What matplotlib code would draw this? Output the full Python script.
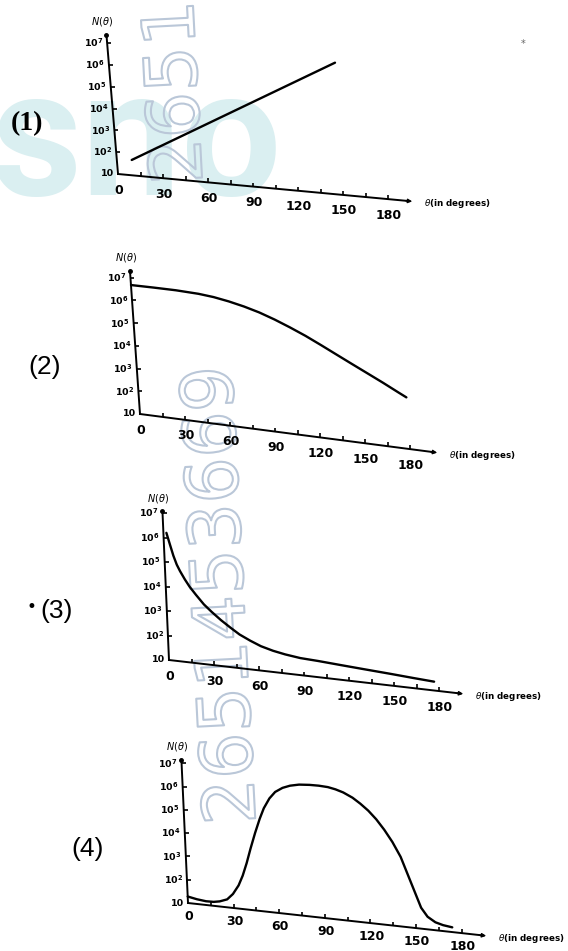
import numpy as np
import matplotlib
matplotlib.use("Agg")
import matplotlib.pyplot as plt
from matplotlib.transforms import Affine2D, offset_copy
from matplotlib import patheffects

FIG_W, FIG_H = 568, 951

# ---- data (theta in degrees, N on a log axis) ----
theta1 = [10, 152]
n1 = [5.1e1, 1.2e7]

theta2 = [0, 15, 30, 45, 55, 65, 75, 85, 95, 105, 115, 125, 135, 145, 155, 165, 175, 180]
n2 = [4.8e6, 5.0e6, 5.1e6, 4.8e6, 4.2e6, 3.3e6, 2.4e6, 1.6e6, 9.5e5, 5.2e5, 2.7e5,
      1.29e5, 6.0e4, 2.8e4, 1.32e4, 6.2e3, 2.8e3, 1.9e3]

theta3 = [2, 4, 6, 8, 10, 13, 16, 20, 25, 30, 36, 42, 48, 55, 62, 70, 78, 88,
          100, 115, 130, 148, 163, 177]
n3 = [1.6e6, 5.6e5, 2.0e5, 8.9e4, 5.0e4, 2.4e4, 1.26e4, 6.3e3, 2.8e3, 1.5e3, 7.6e2,
      4.2e2, 2.4e2, 1.5e2, 1.0e2, 7.4e1, 6.0e1, 5.0e1, 4.6e1, 4.0e1, 3.5e1, 3.0e1,
      2.6e1, 2.3e1]

theta4 = [0, 6, 12, 17, 21, 26, 30, 34, 37, 40, 43, 46.5, 50, 53, 57, 61, 66, 71, 77,
          84, 90, 96, 101, 106, 112, 117, 122, 127, 132, 137, 142, 146, 150, 154, 158,
          163, 168, 174]
n4 = [1.9e1, 1.6e1, 1.45e1, 1.48e1, 1.66e1, 2.2e1, 4.0e1, 1.0e2, 2.75e2, 1.0e3, 4.4e3,
      2.2e4, 9.5e4, 2.8e5, 7.9e5, 1.6e6, 2.6e6, 3.5e6, 4.3e6, 4.7e6, 4.8e6, 4.6e6,
      4.0e6, 3.2e6, 2.1e6, 1.26e6, 6.9e5, 3.2e5, 1.23e5, 4.0e4, 1.0e4, 2.0e3, 4.0e2,
      8.0e1, 3.5e1, 2.2e1, 1.8e1, 1.6e1]

x_ticks = [0, 30, 60, 90, 120, 150, 180]
y_labels = ["10", r"$\mathbf{10^2}$", r"$\mathbf{10^3}$", r"$\mathbf{10^4}$",
            r"$\mathbf{10^5}$", r"$\mathbf{10^6}$", r"$\mathbf{10^7}$"]
panel_names = ["(1)", "(2)", "(3)", "(4)"]

# panel geometry in pixels of the scan: corner, px per degree, px per decade,
# slope of the theta axis, lean of the N axis, axis ends
layout = [
    dict(ox=118, oy=174, ppd=1.5, ppdec=21.8, slope=0.093, tilt=0.083, xmax=198, ytop=7.38, lab=-16),
    dict(ox=140, oy=414, ppd=1.5, ppdec=22.7, slope=0.13, tilt=0.07, xmax=200, ytop=7.31, lab=-16),
    dict(ox=169, oy=660, ppd=1.5, ppdec=24.5, slope=0.115, tilt=0.044, xmax=198, ytop=7.08, lab=-16),
    dict(ox=188, oy=903, ppd=1.52, ppdec=23.3, slope=0.11, tilt=0.046, xmax=198, ytop=7.15, lab=-13),
]
label_pos = [(27, 124), (45, 367), (57, 611), (88, 849)]

fig = plt.figure(figsize=(FIG_W / 100, FIG_H / 100), dpi=100)
fig.patch.set_facecolor("white")

# faint watermarks of the scan
fig.text(-10 / FIG_W, 1 - 195 / FIG_H, "sno", fontsize=128, fontweight="bold",
         family="Roboto", color="#daeff1", zorder=-2)
wm_fx = [patheffects.withStroke(linewidth=1.5, foreground="#bac7d8")]
fig.text(178 / FIG_W, 1 - 92 / FIG_H, "2651", fontsize=52, rotation=93,
         ha="center", va="center", color="none", path_effects=wm_fx, zorder=-1)
fig.text(224 / FIG_W, 1 - 595 / FIG_H, "2651453669", fontsize=52, rotation=93,
         ha="center", va="center", color="none", path_effects=wm_fx, zorder=-1)
fig.text(521 / FIG_W, 1 - 47 / FIG_H, "*", fontsize=7, color="#666666")


def sheared_axes(g):
    w = g["xmax"] * g["ppd"]
    h = (g["ytop"] - 1) * g["ppdec"]
    ax = fig.add_axes([g["ox"] / FIG_W, 1 - g["oy"] / FIG_H, w / FIG_W, h / FIG_H])
    ax.set_yscale("log")
    ax.set_xlim(0, g["xmax"])
    ax.set_ylim(10, 10 ** g["ytop"])
    ax.axis("off")
    m = np.array([[1, -g["tilt"] * h / w, 0],
                  [-g["slope"] * w / h, 1, 0],
                  [0, 0, 1]])
    tr = ax.transScale + ax.transLimits + Affine2D(m) + ax.transAxes
    return ax, tr


def draw_panel(g, theta, n):
    ax, tr = sheared_axes(g)
    xmax, ytop = g["xmax"], 10 ** g["ytop"]
    kw = dict(transform=tr, clip_on=False, color="black")

    # axes
    ax.plot([0, xmax - 4], [10, 10], lw=1.4, **kw)
    ax.annotate("", xy=(xmax, 10), xytext=(xmax - 8, 10), xycoords=tr, textcoords=tr,
                arrowprops=dict(arrowstyle="-|>", color="black", lw=1, mutation_scale=6))
    ax.plot([0, 0], [10, ytop], lw=1.4, **kw)
    ax.plot([0], [ytop], marker="o", ms=2.5, **kw)
    ax.plot(np.arange(15, 181, 15), [10] * 12, ls="none", marker=2, ms=3, mew=1.2, **kw)
    ax.plot([0] * 6, [1e2, 1e3, 1e4, 1e5, 1e6, 1e7], ls="none", marker=1, ms=3, mew=1.2, **kw)

    for t in x_ticks:
        ax.text(t, 10, str(t), transform=offset_copy(tr, fig=fig, x=1, y=g["lab"], units="dots"),
                ha="center", va="center", fontsize=9, fontweight="bold")
    for k, lab in enumerate(y_labels):
        ax.text(0, 10 ** (k + 1), lab, transform=offset_copy(tr, fig=fig, x=-4, y=0, units="dots"),
                ha="right", va="center", fontsize=6.8, fontweight="bold")
    ax.text(0, ytop, r"$N(\theta)$", transform=offset_copy(tr, fig=fig, x=-4, y=13, units="dots"),
            ha="center", va="center", fontsize=7)
    ax.text(xmax, 10, r"$\theta$(in degrees)",
            transform=offset_copy(tr, fig=fig, x=9, y=-2, units="dots"),
            ha="left", va="center", fontsize=6.3, fontweight="bold")

    # curve
    ax.plot(theta, n, lw=1.7, solid_capstyle="round", solid_joinstyle="round", **kw)


for g, th, nn in zip(layout, [theta1, theta2, theta3, theta4], [n1, n2, n3, n4]):
    draw_panel(g, th, nn)

for i, (name, (x, y)) in enumerate(zip(panel_names, label_pos)):
    if i == 0:
        fig.text(x / FIG_W, 1 - y / FIG_H, name, fontsize=20, family="Liberation Serif",
                 fontweight="bold", ha="center", va="center")
    else:
        fig.text(x / FIG_W, 1 - y / FIG_H, name, fontsize=19, family="Liberation Sans",
                 ha="center", va="center")
fig.text(31 / FIG_W, 1 - 607 / FIG_H, "\u2022", fontsize=12, ha="center", va="center")

fig.savefig("out.png", dpi=100)
